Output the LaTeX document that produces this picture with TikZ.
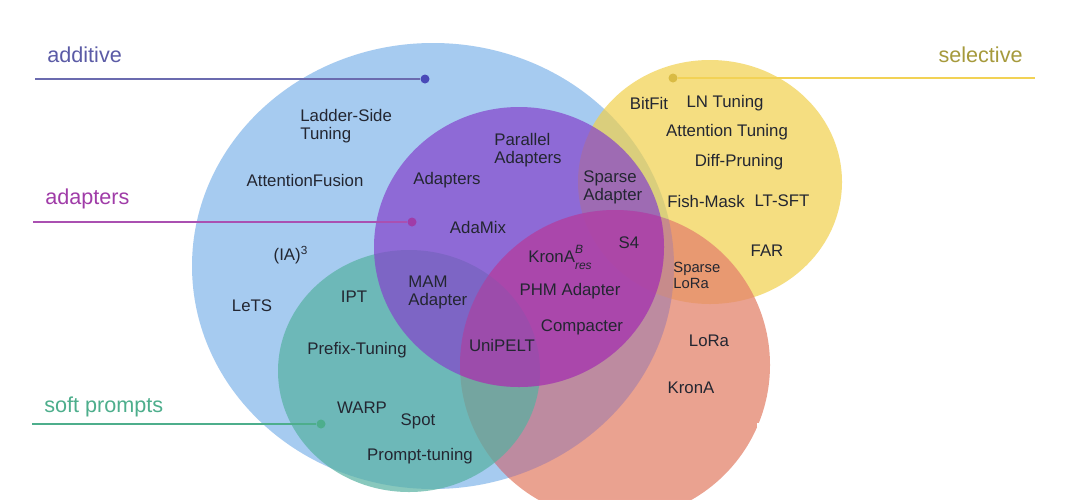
\documentclass[tikz,border=0pt]{standalone}
\usepackage{fontspec}
\setmainfont{Liberation Sans}
\definecolor{blueset}{HTML}{A6CBF0}
\definecolor{yellowset}{HTML}{F1D04C}
\definecolor{salmonset}{HTML}{E4836C}
\definecolor{greenset}{HTML}{56B1A1}
\definecolor{purpleset}{HTML}{8542CB}
\definecolor{mauvetint}{HTML}{8B77CC}
\definecolor{magentatint}{HTML}{D32A8A}
\definecolor{methodtext}{HTML}{232631}
\definecolor{addcol}{HTML}{5B5BA6}
\definecolor{adpcol}{HTML}{A03CA8}
\definecolor{softcol}{HTML}{4DAE8C}
\definecolor{selcol}{HTML}{A69A3C}
\tikzset{
    method/.style={inner sep=0pt, text=methodtext, font=\fontsize{8.4}{9}\selectfont, align=left},
    grouplabel/.style={inner sep=0pt, anchor=west, font=\fontsize{10.8}{12}\selectfont},
    setdot/.style={circle, fill, inner sep=0pt, minimum size=4.5pt},
    leader/.style={line width=1pt}
}

\begin{document}
\begin{tikzpicture}[x=0.5pt, y=-0.5pt]
    \useasboundingbox (0,0) rectangle (1080,499);
    \fill[white] (0,0) rectangle (1080,499);
    % the five sets
    \fill[blueset] (433,266) ellipse [x radius=241, y radius=223];
    \fill[yellowset, fill opacity=0.7] (710,182) ellipse [x radius=132, y radius=122];
    \fill[salmonset, fill opacity=0.75] (615,365) ellipse [x radius=155, y radius=155];
    \begin{scope}
        \clip (433,266) ellipse [x radius=241, y radius=223];
        \fill[mauvetint, fill opacity=0.3] (615,365) ellipse [x radius=155, y radius=155];
    \end{scope}
    \fill[greenset, fill opacity=0.7] (409,371) ellipse [x radius=131, y radius=121];
    \fill[purpleset, fill opacity=0.7] (519,247) ellipse [x radius=145, y radius=140];
    \begin{scope}
        \clip (615,365) ellipse [x radius=155, y radius=155];
        \fill[magentatint, fill opacity=0.35] (519,247) ellipse [x radius=145, y radius=140];
    \end{scope}
    \fill[white] (757,423) rectangle (1080,499);

    % group labels
    \node[grouplabel, text=addcol] (lbladd) at (47,55) {additive};
    \node[grouplabel, text=adpcol] (lbladp) at (45,199) {adapters};
    \node[grouplabel, text=softcol] (lblsoft) at (44,407) {soft prompts};
    \node[grouplabel, text=selcol, anchor=east] (lblsel) at (1023,55) {selective};

    \coordinate (addL) at (35,79);
    \coordinate (adpL) at (33,222);
    \coordinate (softL) at (32,424);
    \coordinate (selR) at (1035,78);
    \node[setdot, fill=addcol!80!blue] (dotadd) at (425,79) {};
    \node[setdot, fill=adpcol] (dotadp) at (412,222) {};
    \node[setdot, fill=softcol] (dotsoft) at (321,424) {};
    \node[setdot, fill=yellowset!90!black] (dotsel) at (673,78) {};
    \draw[leader, addcol!90!white] (addL) -- (dotadd);
    \draw[leader, adpcol!90!white] (adpL) -- (dotadp);
    \draw[leader, softcol] (softL) -- (dotsoft);
    \draw[leader, yellowset!95!white] (dotsel) -- (selR);

    % additive only
    \node[method, anchor=west] (ladder) at (300,126) {Ladder-Side\\Tuning};
    \node[method] (attfus) at (305,180) {AttentionFusion};
    \node[method] (ia3) at (291,255) {(IA)\textsuperscript{3}};
    \node[method] (lets) at (252,306) {LeTS};

    % soft prompts
    \node[method] (ipt) at (354,297) {IPT};
    \node[method] (prefix) at (357,350) {Prefix-Tuning};
    \node[method] (warp) at (362,408) {WARP};
    \node[method] (spot) at (418,421) {Spot};
    \node[method] (prompt) at (420,456) {Prompt-tuning};

    % adapters
    \node[method, anchor=west] (mam) at (408,292) {MAM\\Adapter};
    \node[method] (unipelt) at (502,345) {UniPELT};
    \node[method] (adapters) at (447,180) {Adapters};
    \node[method] (adamix) at (478,227) {AdaMix};
    \node[method, anchor=west] (parallel) at (494,150) {Parallel\\Adapters};
    \node[method, anchor=west] (sparseadp) at (583,187) {Sparse\\Adapter};
    \node[method] (krona) at (560,257) {KronA\makebox[0pt][l]{\raisebox{1.1ex}{\fontsize{6}{6}\selectfont\itshape B}}\raisebox{-0.7ex}{\fontsize{6}{6}\selectfont\itshape res}};
    \node[method] (s4) at (629,243) {S4};
    \node[method] (phm) at (570,291) {PHM Adapter};
    \node[method] (compacter) at (582,327) {Compacter};

    % selective
    \node[method] (bitfit) at (649,103) {BitFit};
    \node[method] (lntuning) at (725,103) {LN Tuning};
    \node[method] (atttuning) at (727,132) {Attention Tuning};
    \node[method] (diffpr) at (739,162) {Diff-Pruning};
    \node[method] (fishmask) at (706,201) {Fish-Mask};
    \node[method] (ltsft) at (782,201) {LT-SFT};
    \node[method] (far) at (767,251) {FAR};
    \node[method, anchor=west, font=\fontsize{7.4}{8}\selectfont] (sparselora) at (673,275) {Sparse\\LoRa};

    % reparametrization
    \node[method] (lora) at (709,341) {LoRa};
    \node[method] (kronaplain) at (691,388) {KronA};
\end{tikzpicture}
\end{document}
